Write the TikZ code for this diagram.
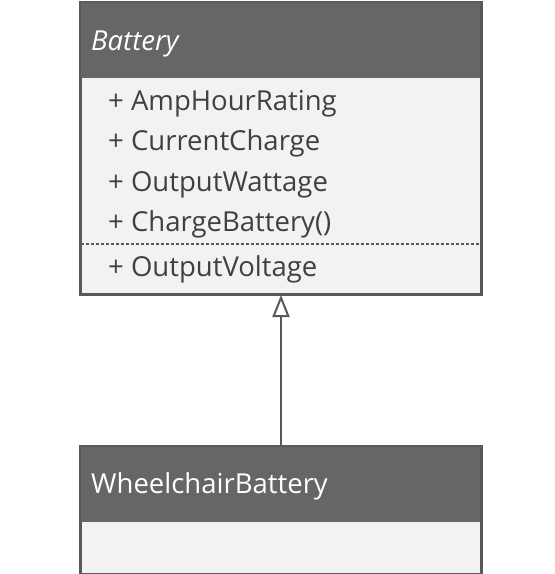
\documentclass[tikz,border=0pt]{standalone}
\usepackage{fontspec}
\setmainfont{Open Sans}
\usetikzlibrary{arrows.meta}
\definecolor{headgray}{HTML}{666666}
\definecolor{bodygray}{HTML}{F2F2F2}
\definecolor{linegray}{HTML}{595959}
\definecolor{textgray}{HTML}{404040}
\begin{document}
\begin{tikzpicture}[x=1pt,y=-1pt,
  classbox/.style={draw=linegray, line width=2pt, fill=bodygray, minimum width=400pt, anchor=north west, inner sep=0pt},
  header/.style={fill=headgray, minimum width=400pt, anchor=north west, inner sep=0pt},
  member/.style={anchor=base west, text=textgray, font=\fontsize{27.5}{31}\selectfont, inner sep=0pt},
  title/.style={anchor=base west, text=white, font=\fontsize{27.5}{31}\selectfont, inner sep=0pt},
  sep/.style={draw=linegray, line width=1.2pt, dash pattern=on 3pt off 2pt}]
\useasboundingbox (0,0) rectangle (555,574);
% Battery class
\node[classbox, minimum height=291pt] (battery) at (80,2) {};
\node[header, minimum height=76pt] (batteryhead) at (80,2) {};
\draw[sep] (81,244) -- (479,244);
\draw[linegray, line width=2pt] (battery.north west) rectangle (battery.south east);
\node[title] (tbattery) at (91,50) {\itshape Battery};
\node[member] (m1) at (108,110) {+ AmpHourRating};
\node[member] (m2) at (108,150) {+ CurrentCharge};
\node[member] (m3) at (108,191) {+ OutputWattage};
\node[member] (m4) at (108,231) {+ ChargeBattery()};
\node[member] (m5) at (108,276) {+ OutputVoltage};
% WheelchairBattery class
\node[classbox, minimum height=127pt] (wheel) at (80,446) {};
\node[header, minimum height=76pt] (wheelhead) at (80,446) {};
\draw[linegray, line width=2pt] (wheel.north west) rectangle (wheel.south east);
\node[title] (twheel) at (91,493) {WheelchairBattery};
% generalization
\draw[linegray, line width=2pt, -{Triangle[open, length=22pt, width=17pt, line width=2pt, fill=white]}] (wheel.north) -- (battery.south);
\end{tikzpicture}
\end{document}
